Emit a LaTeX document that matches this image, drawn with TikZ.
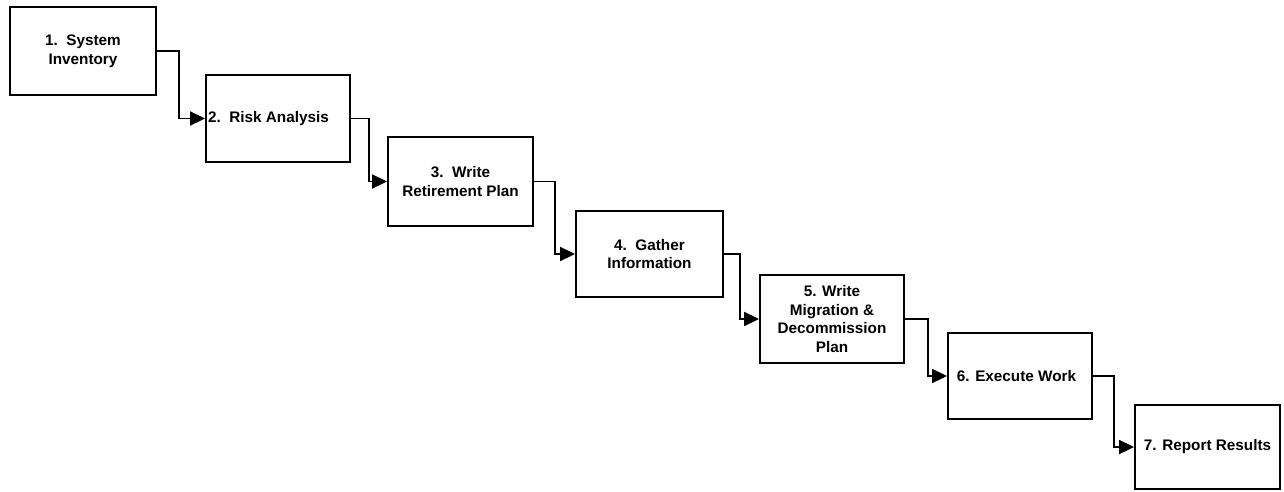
\documentclass[tikz,border=0pt]{standalone}
\usepackage{fontspec}
\setmainfont{Liberation Sans}
\usetikzlibrary{arrows.meta}

\tikzset{
  stepbox/.style={draw, line width=1.9pt, align=center, inner sep=2pt,
    font=\bfseries\fontsize{15.3}{18.5}\selectfont},
  flow/.style={line width=1.9pt, -{Triangle[length=15pt,width=14pt]}}
}

\begin{document}
\begin{tikzpicture}[x=1pt, y=-1pt]
  \useasboundingbox (0,0) rectangle (1284,491);

  % process steps
  \node[stepbox, minimum width=146pt, minimum height=88pt] (s1) at (83,51)
    {1.~~System\\Inventory};
  \node[stepbox, minimum width=144pt, minimum height=87pt] (s2) at (278,118.5)
    {\hspace*{-19pt}2.~~Risk Analysis};
  \node[stepbox, minimum width=145pt, minimum height=89pt] (s3) at (460.5,181.5)
    {3.~~Write\\Retirement Plan};
  \node[stepbox, minimum width=147pt, minimum height=86pt] (s4) at (649.5,254)
    {4.~~Gather\\Information};
  \node[stepbox, minimum width=144pt, minimum height=88pt] (s5) at (832,319)
    {5. Write\\Migration \&\\Decommission\\Plan};
  \node[stepbox, minimum width=144pt, minimum height=86pt] (s6) at (1020,376)
    {\hspace*{-7pt}6. Execute Work};
  \node[stepbox, minimum width=145pt, minimum height=84pt] (s7) at (1207.5,447)
    {7. Report Results};

  % step-to-step connectors
  \draw[flow] (s1.east) -- ++(22,0) |- (s2.west);
  \draw[flow] (s2.east) -- ++(18,0) |- (s3.west);
  \draw[flow] (s3.east) -- ++(21,0) |- (s4.west);
  \draw[flow] (s4.east) -- ++(16,0) |- (s5.west);
  \draw[flow] (s5.east) -- ++(23,0) |- (s6.west);
  \draw[flow] (s6.east) -- ++(21,0) |- (s7.west);
\end{tikzpicture}
\end{document}
